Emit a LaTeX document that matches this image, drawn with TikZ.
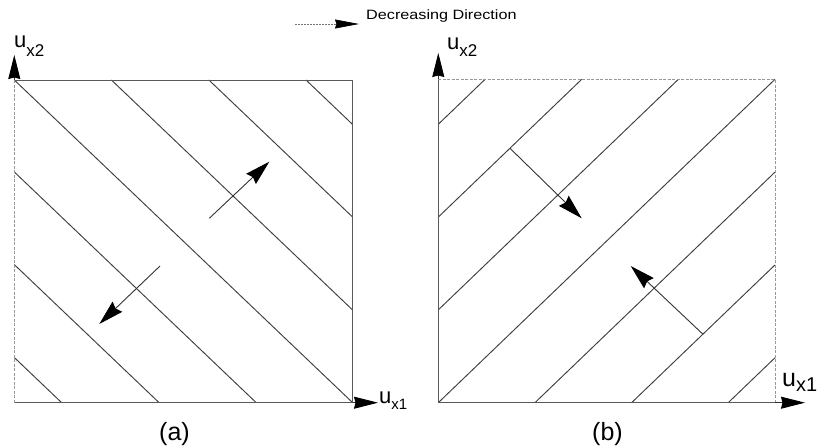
\documentclass[tikz,border=0pt]{standalone}
\usepackage{fontspec}
\setmainfont{Liberation Sans}
\usetikzlibrary{arrows.meta}
\tikzset{
  hatchline/.style={draw=black!75, line width=0.95pt},
  boxedge/.style={draw=black!65, line width=0.9pt},
  dashededge/.style={draw=black!40, line width=0.8pt, dash pattern=on 3pt off 1.5pt},
  dirarrow/.style={draw=black!80, line width=0.9pt, -{Stealth[length=25pt,width=14pt,inset=2.5pt,color=black]}},
  axisarrow/.style={draw=black!80, line width=0.9pt, -{Stealth[length=24pt,width=12pt,inset=1.5pt,color=black]}},
  lbl/.style={inner sep=0pt, anchor=base west},
  panelcaption/.style={inner sep=0pt, font=\fontsize{25}{25}\selectfont}
}
\begin{document}
\begin{tikzpicture}[x=1pt,y=-1pt]
\useasboundingbox (0,0) rectangle (822,446);

% ---------- panel (a) ----------
\begin{scope}[shift={(14.3,402.7)}, x={(338.4pt,0pt)}, y={(0pt,322.7pt)}]
  \coordinate (aBL) at (0,0);
  \coordinate (aBR) at (1,0);
  \coordinate (aTL) at (0,1);
  \coordinate (aTR) at (1,1);
  \foreach \c in {0.14,0.428,0.715,1.0} \draw[hatchline] (0,\c) -- (\c,0);
  \foreach \c in {1.287,1.575,1.862} \draw[hatchline] (\c-1,1) -- (1,\c-1);
\end{scope}
\draw[boxedge] (aTL) -- (aTR) -- (aBR);
\draw[boxedge] (aBL) -- (aBR);
\draw[dashededge] (aBL) -- (aTL);
\coordinate (aYtip) at (14.3,55);
\coordinate (aXtip) at (378,402.7);
\draw[axisarrow] (aTL) -- (aYtip);
\draw[axisarrow] (aBR) -- (aXtip);

\coordinate (a1s) at (209.3,218.3);
\coordinate (a1e) at (269.3,161.7);
\coordinate (a2s) at (160,266);
\coordinate (a2e) at (99.3,324);
\draw[dirarrow] (a1s) -- (a1e);
\draw[dirarrow] (a2s) -- (a2e);

\node[lbl] (aux2) at (14,48) {\fontsize{22}{22}\selectfont u\raisebox{-9pt}{\fontsize{17}{17}\selectfont x2}};
\node[lbl] (aux1) at (379,403.5) {\fontsize{22}{22}\selectfont u\raisebox{-6pt}{\fontsize{15}{15}\selectfont x1}};
\node[panelcaption] (capa) at (174.5,434) {(a)};

% ---------- panel (b) ----------
\begin{scope}[shift={(438.3,402.7)}, x={(336.7pt,0pt)}, y={(0pt,323.4pt)}]
  \coordinate (bBL) at (0,0);
  \coordinate (bBR) at (1,0);
  \coordinate (bTL) at (0,1);
  \coordinate (bTR) at (1,1);
  \foreach \c in {0,0.287,0.574,0.861} \draw[hatchline] (0,\c) -- (1-\c,1);
  \foreach \c in {0.287,0.574,0.861} \draw[hatchline] (\c,0) -- (1,1-\c);
\end{scope}
\draw[boxedge] (bBL) -- (bBR);
\draw[boxedge] (bBL) -- (bTL);
\draw[dashededge] (bTL) -- (bTR) -- (bBR);
\coordinate (bYtip) at (438.3,53);
\coordinate (bXtip) at (805,402.7);
\draw[axisarrow] (bTL) -- (bYtip);
\draw[axisarrow] (bBR) -- (bXtip);

\coordinate (b1s) at (510,148.3);
\coordinate (b1e) at (581.7,218.3);
\coordinate (b2s) at (702.7,334);
\coordinate (b2e) at (630.7,266);
\draw[dirarrow] (b1s) -- (b1e);
\draw[dirarrow] (b2s) -- (b2e);

\node[lbl] (bux2) at (447,50) {\fontsize{22}{22}\selectfont u\raisebox{-7pt}{\fontsize{17}{17}\selectfont x2}};
\node[lbl] (bux1) at (782,386) {\fontsize{25}{25}\selectfont u\raisebox{-5pt}{\fontsize{20}{20}\selectfont x1}};
\node[panelcaption] (capb) at (607.5,434) {(b)};

% ---------- legend ----------
\coordinate (legA) at (295,24);
\coordinate (legB) at (359,24);
\draw[draw=black!55, line width=0.7pt, dash pattern=on 2pt off 1pt, -{Stealth[length=24pt,width=9pt,inset=1.5pt,color=black]}] (legA) -- (legB);
\node[lbl] (legtext) at (366,19.3) {\scalebox{1.2}[1]{\fontsize{13.5}{13.5}\selectfont Decreasing Direction}};
\end{tikzpicture}
\end{document}
